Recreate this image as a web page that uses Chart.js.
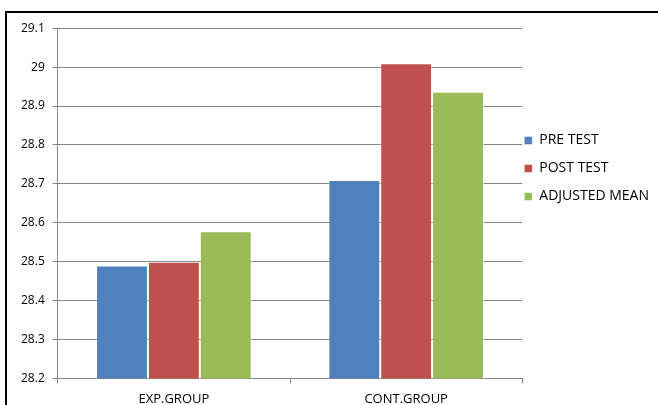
<!DOCTYPE html>
<html>
<head>
<meta charset="utf-8">
<script src="https://cdn.jsdelivr.net/npm/chart.js@4/dist/chart.umd.min.js"></script>
<style>
  html, body { margin: 0; padding: 0; background: #fff; overflow: hidden; }
  #frame { position: absolute; left: 5px; top: 11px; width: 700px; height: 400px; border: 2px solid #000; box-sizing: border-box; overflow: hidden; }
  #wrap { position: absolute; left: 0; top: 0; width: 651px; height: 396px; }
</style>
</head>
<body>
<div id="frame"><div id="wrap"><canvas id="barChart"></canvas></div></div>
<script>
const groups = ['EXP.GROUP', 'CONT.GROUP'];
const seriesNames = ['PRE TEST', 'POST TEST', 'ADJUSTED MEAN'];
const preTest = [28.49, 28.71];
const postTest = [28.50, 29.01];
const adjustedMean = [28.578, 28.937];
const seriesColors = ['#4F81BD', '#C0504D', '#9BBB59'];

// legend sits a bit above the middle of the plot and close to it in the original
const legendShift = {
    id: 'legendShift',
    afterLayout: function(chart) {
        if (!chart.legend) return;
        chart.legend.bottom -= 100;
        chart.legend.left -= 12;
        chart.legend.right -= 12;
    }
};

window.onload = function() {
    const ctx = document.getElementById('barChart').getContext('2d');
    const values = [preTest, postTest, adjustedMean];
    new Chart(ctx, {
        type: 'bar',
        data: {
            labels: groups,
            datasets: seriesNames.map(function(name, i) {
                return {
                    label: name,
                    data: values[i],
                    backgroundColor: seriesColors[i],
                    borderColor: 'rgba(255,255,255,0.5)',
                    borderWidth: 1,
                    barPercentage: 1.0,
                    categoryPercentage: 0.67
                };
            })
        },
        options: {
            responsive: true,
            maintainAspectRatio: false,
            animation: false,
            layout: { padding: { left: 6, top: 9, right: -13, bottom: -6 } },
            plugins: {
                tooltip: { enabled: false },
                legend: {
                    position: 'right',
                    labels: {
                        boxWidth: 8,
                        boxHeight: 8,
                        padding: 14,
                        color: '#000',
                        font: { family: 'Open Sans', size: 14 }
                    }
                }
            },
            scales: {
                x: {
                    grid: { display: true, drawOnChartArea: false, tickLength: 5, color: '#868686', offset: true },
                    border: { color: '#868686' },
                    ticks: { color: '#000', font: { family: 'Open Sans', size: 13 }, padding: 8 }
                },
                y: {
                    min: 28.2,
                    max: 29.1,
                    grid: { color: '#868686', tickLength: 5 },
                    border: { color: '#868686' },
                    ticks: {
                        stepSize: 0.1,
                        color: '#000',
                        padding: 8,
                        font: { family: 'Open Sans', size: 12 },
                        callback: function(v) { return parseFloat(v.toFixed(1)).toString(); }
                    }
                }
            }
        },
        plugins: [legendShift]
    });
};
</script>
</body>
</html>
